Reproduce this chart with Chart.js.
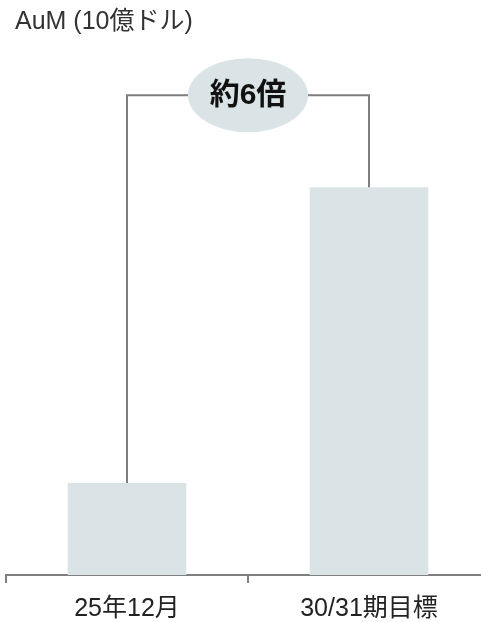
<!DOCTYPE html>
<html>
<head>
<meta charset="utf-8">
<script src="https://cdn.jsdelivr.net/npm/chart.js@4.4.1/dist/chart.umd.min.js"></script>
<style>
    html, body { margin:0; padding:0; background:#ffffff; overflow:hidden; }
    #wrap { position:relative; width:496px; height:640px; }
</style>
</head>
<body>
<div id="wrap"><canvas id="grafico"></canvas></div>
<script>
const categorias = ['25年12月', '30/31期目標'];
const valores = [2.4, 10.1];
const ejeMax = 13;
const nivelCorchete = 12.5;
const etiquetaCorchete = '約6倍';
const titulo = 'AuM (10億ドル)';

const fuente = '"Liberation Sans", Arial, "Noto Sans CJK JP", sans-serif';
const colorBarra = '#dae4e6';
const colorLinea = '#7f7f7f';

// titulo arriba a la izquierda
const tituloIzq = {
    id: 'tituloIzq',
    afterDraw(chart){
        const ctx = chart.ctx;
        ctx.save();
        ctx.fillStyle = '#333333';
        ctx.font = '25px ' + fuente;
        ctx.textAlign = 'left';
        ctx.textBaseline = 'alphabetic';
        ctx.fillText(titulo, 15, 28.5);
        ctx.restore();
    }
};

// corchete con la elipse de "約6倍"
const corchete = {
    id: 'corchete',
    afterDatasetsDraw(chart){
        const ctx = chart.ctx;
        const barras = chart.getDatasetMeta(0).data;
        const yNivel = chart.scales.y.getPixelForValue(nivelCorchete);
        const x1 = barras[0].x, x2 = barras[1].x;
        const cx = (x1 + x2) / 2;

        ctx.save();
        ctx.strokeStyle = colorLinea;
        ctx.lineWidth = 2;
        ctx.beginPath();
        ctx.moveTo(x1, barras[0].y);
        ctx.lineTo(x1, yNivel);
        ctx.lineTo(x2, yNivel);
        ctx.lineTo(x2, barras[1].y);
        ctx.stroke();

        ctx.fillStyle = colorBarra;
        ctx.beginPath();
        ctx.ellipse(cx, yNivel, 60, 37, 0, 0, Math.PI * 2);
        ctx.fill();

        ctx.fillStyle = '#111111';
        ctx.font = 'bold 30px ' + fuente;
        ctx.textAlign = 'center';
        ctx.textBaseline = 'middle';
        ctx.fillText(etiquetaCorchete, cx, yNivel + 1);
        ctx.restore();
    }
};

new Chart(document.getElementById('grafico'), {
    type: 'bar',
    plugins: [corchete, tituloIzq],
    data: {
        labels: categorias,
        datasets: [{
            data: valores,
            backgroundColor: colorBarra,
            borderWidth: 0,
            barPercentage: 0.49,
            categoryPercentage: 1
        }]
    },
    options: {
        responsive: true,
        maintainAspectRatio: false,
        animation: false,
        layout: { padding: { left: 6, right: 6, top: 76, bottom: 5 } },
        plugins: {
            legend: { display: false },
            tooltip: { enabled: false },
            title: { display: false }
        },
        scales: {
            x: {
                border: { display: true, color: colorLinea, width: 2 },
                grid: {
                    display: true,
                    drawOnChartArea: false,
                    drawTicks: true,
                    tickLength: 8,
                    color: colorLinea,
                    lineWidth: 2
                },
                ticks: {
                    color: '#222222',
                    padding: 11,
                    font: { family: fuente, size: 25 }
                }
            },
            y: {
                display: false,
                min: 0,
                max: ejeMax
            }
        }
    }
});
</script>
</body>
</html>
